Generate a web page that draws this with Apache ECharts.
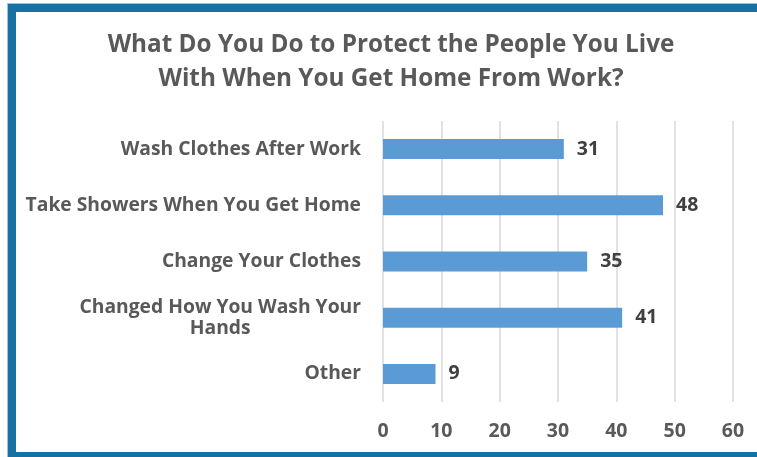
<!DOCTYPE html>
<html>
<head>
<meta charset="utf-8">
<script src="https://cdn.jsdelivr.net/npm/echarts@6/dist/echarts.min.js"></script>
<style>
  html, body { margin: 0; padding: 0; background: #ffffff; }
  #chart { width: 757px; height: 457px; }
</style>
</head>
<body>
<div id="chart"></div>
<script>
// Survey answers, top to bottom
const categories = [
  'Wash Clothes After Work',
  'Take Showers When You Get Home',
  'Change Your Clothes',
  'Changed How You Wash Your\nHands',
  'Other'
];
const responses = [31, 48, 35, 41, 9];
const titleLines = [
  'What Do You Do to Protect the People You Live',
  'With When You Get Home From Work?'
];

const FONT = '"Open Sans", "Noto Sans", sans-serif';
const frameColor = '#1672a5';

const chart = echarts.init(document.getElementById('chart'), null, { renderer: 'canvas' });

chart.setOption({
  backgroundColor: '#ffffff',
  animation: false,
  grid: { left: 383, right: 24, top: 121, bottom: 55, containLabel: false },
  xAxis: {
    type: 'value',
    min: 0,
    max: 60,
    interval: 10,
    axisLine: { show: false },
    axisTick: { show: false },
    splitLine: { show: true, lineStyle: { color: '#d9d9d9', width: 1.5 } },
    axisLabel: {
      margin: 19,
      fontFamily: FONT,
      fontSize: 19.5,
      fontWeight: 'bold',
      color: '#595959'
    }
  },
  yAxis: {
    type: 'category',
    inverse: true,
    data: categories,
    axisLine: { show: false },
    axisTick: { show: false },
    axisLabel: {
      margin: 22,
      align: 'right',
      fontFamily: FONT,
      fontSize: 19.3,
      fontWeight: 'bold',
      color: '#595959',
      lineHeight: 21,
      formatter: function (v) {
        return v.split('\n').map(function (s) { return '{c|' + s + '}'; }).join('\n');
      },
      rich: {
        c: {
          align: 'center',
          fontFamily: FONT,
          fontSize: 19.3,
          fontWeight: 'bold',
          color: '#595959',
          lineHeight: 21
        }
      }
    }
  },
  series: [{
    type: 'bar',
    data: responses,
    barWidth: 20,
    itemStyle: { color: '#5b9bd5' },
    label: {
      show: true,
      position: 'right',
      distance: 13,
      fontFamily: FONT,
      fontSize: 19.5,
      fontWeight: 'bold',
      color: '#404040'
    }
  }],
  graphic: [
    // frame: top, left and bottom edges
    { type: 'rect', silent: true, shape: { x: 7, y: 3, width: 750, height: 1 }, style: { fill: '#9cc4dc' } },
    { type: 'rect', silent: true, shape: { x: 7, y: 3, width: 1, height: 454 }, style: { fill: '#9cc4dc' } },
    { type: 'rect', silent: true, shape: { x: 8, y: 4, width: 749, height: 8 }, style: { fill: frameColor } },
    { type: 'rect', silent: true, shape: { x: 8, y: 4, width: 8, height: 453 }, style: { fill: frameColor } },
    { type: 'rect', silent: true, shape: { x: 8, y: 452, width: 749, height: 5 }, style: { fill: frameColor } },
    {
      type: 'text',
      silent: true,
      x: 391,
      y: 62,
      style: {
        text: titleLines.join('\n'),
        align: 'center',
        verticalAlign: 'middle',
        fontFamily: FONT,
        fontSize: 24.3,
        fontWeight: 'bold',
        lineHeight: 34,
        fill: '#595959'
      }
    }
  ]
});
</script>
</body>
</html>
